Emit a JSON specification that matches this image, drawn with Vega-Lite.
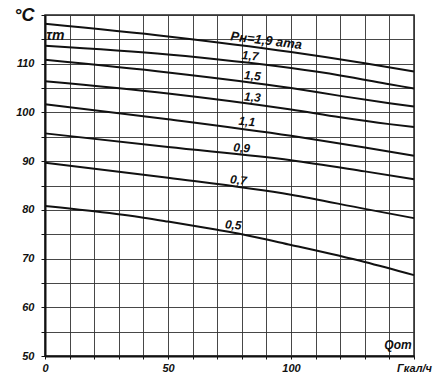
{
  "$schema": "https://vega.github.io/schema/vega-lite/v6.json",
  "width": 369,
  "height": 341,
  "autosize": "none",
  "padding": {"left": 45, "top": 15, "right": 28, "bottom": 25},
  "background": "white",
  "config": {
    "view": {"stroke": "#222", "strokeWidth": 1.5},
    "font": "Liberation Sans"
  },
  "datasets": {
    "curves": [
      {"p": "1.9", "q": 0, "t": 118.2}, {"p": "1.9", "q": 50, "t": 115.6}, {"p": "1.9", "q": 100, "t": 112.4}, {"p": "1.9", "q": 130, "t": 110.1}, {"p": "1.9", "q": 150, "t": 108.4},
      {"p": "1.7", "q": 0, "t": 113.7}, {"p": "1.7", "q": 50, "t": 111.9}, {"p": "1.7", "q": 100, "t": 109.1}, {"p": "1.7", "q": 120, "t": 107.6}, {"p": "1.7", "q": 140, "t": 105.8}, {"p": "1.7", "q": 150, "t": 104.9},
      {"p": "1.5", "q": 0, "t": 110.8}, {"p": "1.5", "q": 50, "t": 108.2}, {"p": "1.5", "q": 100, "t": 105.0}, {"p": "1.5", "q": 120, "t": 103.4}, {"p": "1.5", "q": 140, "t": 101.9}, {"p": "1.5", "q": 150, "t": 101.2},
      {"p": "1.3", "q": 0, "t": 106.4}, {"p": "1.3", "q": 50, "t": 103.9}, {"p": "1.3", "q": 100, "t": 100.6}, {"p": "1.3", "q": 120, "t": 99.0}, {"p": "1.3", "q": 140, "t": 97.6}, {"p": "1.3", "q": 150, "t": 97.0},
      {"p": "1.1", "q": 0, "t": 101.7}, {"p": "1.1", "q": 50, "t": 98.6}, {"p": "1.1", "q": 100, "t": 95.2}, {"p": "1.1", "q": 130, "t": 92.8}, {"p": "1.1", "q": 150, "t": 91.1},
      {"p": "0.9", "q": 0, "t": 95.7}, {"p": "0.9", "q": 50, "t": 92.9}, {"p": "0.9", "q": 100, "t": 90.2}, {"p": "0.9", "q": 130, "t": 87.9}, {"p": "0.9", "q": 150, "t": 86.3},
      {"p": "0.7", "q": 0, "t": 89.7}, {"p": "0.7", "q": 50, "t": 86.6}, {"p": "0.7", "q": 100, "t": 83.1}, {"p": "0.7", "q": 130, "t": 80.2}, {"p": "0.7", "q": 150, "t": 78.3},
      {"p": "0.5", "q": 0, "t": 80.8}, {"p": "0.5", "q": 20, "t": 79.7}, {"p": "0.5", "q": 40, "t": 78.4}, {"p": "0.5", "q": 50, "t": 77.6}, {"p": "0.5", "q": 70, "t": 75.9}, {"p": "0.5", "q": 80, "t": 75.0}, {"p": "0.5", "q": 100, "t": 72.8}, {"p": "0.5", "q": 130, "t": 69.3}, {"p": "0.5", "q": 150, "t": 66.6}
    ],
    "labels": [
      {"q": 89.7, "t": 113.9, "label": "Pн=1,9 ата", "a": 7, "s": 13},
      {"q": 83.3, "t": 110.8, "label": "1,7", "a": 5, "s": 12},
      {"q": 84.2, "t": 106.7, "label": "1,5", "a": 5, "s": 12},
      {"q": 84.2, "t": 102.3, "label": "1,3", "a": 5, "s": 12},
      {"q": 81.9, "t": 97.3, "label": "1,1", "a": 5, "s": 12},
      {"q": 79.8, "t": 91.9, "label": "0,9", "a": 5, "s": 12},
      {"q": 78.5, "t": 85.3, "label": "0,7", "a": 5, "s": 12},
      {"q": 76.4, "t": 76.1, "label": "0,5", "a": 5, "s": 12},
      {"q": 4.2, "t": 114.8, "label": "τт", "a": 0, "s": 14},
      {"q": 143.5, "t": 51.5, "label": "Qот", "a": 0, "s": 12}
    ]
  },
  "encoding": {
    "x": {
      "field": "q", "type": "quantitative",
      "scale": {"domain": [0, 150], "nice": false},
      "axis": {
        "title": null,
        "values": [0, 10, 20, 30, 40, 50, 60, 70, 80, 90, 100, 110, 120, 130, 140, 150],
        "labelExpr": "datum.value == 150 ? 'Гкал/ч' : (datum.value % 50 == 0 ? datum.label : '')",
        "labelOverlap": false,
        "labelFont": "Liberation Sans", "labelFontStyle": "italic", "labelFontWeight": "bold",
        "labelFontSize": 11, "labelColor": "#111", "labelPadding": 3, "labelFlush": false,
        "tickSize": 3, "tickColor": "#111", "domainColor": "#111", "domainWidth": 2,
        "gridColor": "#333", "gridWidth": 1, "gridOpacity": 0.9
      }
    },
    "y": {
      "field": "t", "type": "quantitative",
      "scale": {"domain": [50, 120], "nice": false, "zero": false},
      "axis": {
        "title": null,
        "values": [50, 55, 60, 65, 70, 75, 80, 85, 90, 95, 100, 105, 110, 115, 120],
        "labelExpr": "datum.value == 120 ? '°C' : (datum.value % 10 == 0 ? datum.label : '')",
        "labelOverlap": false,
        "labelFont": "Liberation Sans", "labelFontStyle": "italic", "labelFontWeight": "bold",
        "labelFontSize": {"condition": {"test": "datum.value == 120", "value": 18}, "value": 11},
        "labelColor": "#111", "labelPadding": 7, "labelFlush": false,
        "tickSize": 4, "tickColor": "#111", "domainColor": "#111", "domainWidth": 2,
        "gridColor": "#333", "gridWidth": 1, "gridOpacity": 0.9
      }
    }
  },
  "layer": [
    {
      "data": {"name": "curves"},
      "mark": {"type": "line", "color": "#111", "strokeWidth": 2, "interpolate": "monotone"},
      "encoding": {
        "detail": {"field": "p"}
      }
    },
    {
      "data": {"name": "labels"},
      "mark": {"type": "text", "fontStyle": "italic", "fontWeight": "bold", "color": "#111", "align": "center", "baseline": "alphabetic"},
      "encoding": {
        "text": {"field": "label"},
        "angle": {"field": "a", "type": "quantitative", "scale": null},
        "size": {"field": "s", "type": "quantitative", "scale": null}
      }
    }
  ]
}
